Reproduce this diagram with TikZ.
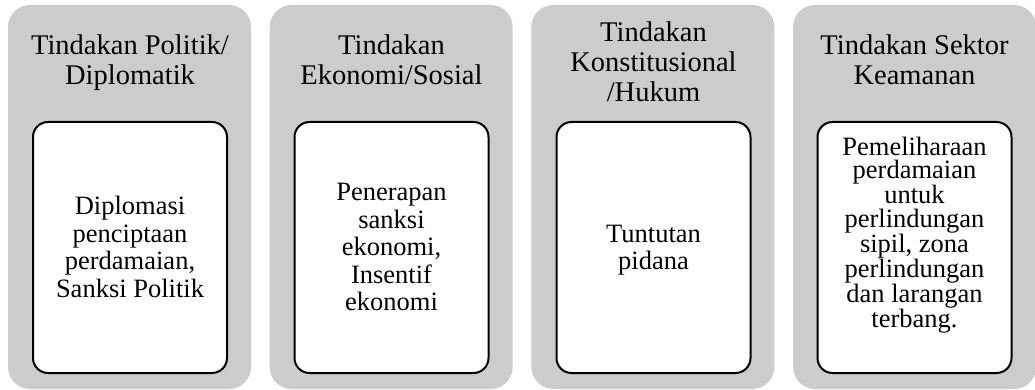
\documentclass[tikz,border=0pt]{standalone}
\usepackage{fontspec}
\setmainfont{Liberation Serif}
\definecolor{boxgrey}{HTML}{CCCCCC}
\tikzset{
  outerbox/.style={fill=boxgrey, draw=none, rounded corners=22pt, minimum width=243pt, minimum height=384pt, inner sep=0pt},
  innerbox/.style={fill=white, draw=black, line width=2pt, rounded corners=15pt, minimum width=194pt, minimum height=251pt, inner sep=0pt},
  titletext/.style={font=\fontsize{28.5}{30}\selectfont, align=center, anchor=base, inner sep=0pt},
  bodytext/.style={font=\fontsize{26.5}{27.5}\selectfont, align=center, anchor=base, inner sep=0pt},
}
\begin{document}
\begin{tikzpicture}[x=1pt,y=-1pt]
\useasboundingbox (0,0) rectangle (1035,390);
% outer boxes
\node[outerbox] (o1) at (129.5,197) {};
\node[outerbox] (o2) at (391.2,197) {};
\node[outerbox] (o3) at (652.9,197) {};
\node[outerbox] (o4) at (914.6,197) {};
% inner boxes
\node[innerbox] (i1) at (130,247.5) {};
\node[innerbox] (i2) at (391.5,247.5) {};
\node[innerbox] (i3) at (653.5,247.5) {};
\node[innerbox] (i4) at (914.5,247.5) {};
% titles (anchor = baseline of last line)
\node[titletext] (t1) at (130,85) {Tindakan Politik/\\Diplomatik};
\node[titletext] (t2) at (391.5,85) {Tindakan\\Ekonomi/Sosial};
\node[titletext] (t3) at (653.5,102) {Tindakan\\Konstitusional\\/Hukum};
\node[titletext] (t4) at (914.5,85) {Tindakan Sektor\\Keamanan};
% bodies
\node[bodytext] (b1) at (130,297) {Diplomasi\\penciptaan\\perdamaian,\\Sanksi Politik};
\node[bodytext] (b2) at (391.5,310.5) {Penerapan\\sanksi\\ekonomi,\\Insentif\\ekonomi};
\node[bodytext] (b3) at (653.5,269.7) {Tuntutan\\pidana};
\node[bodytext, font=\fontsize{26.5}{23.1}\selectfont] (b4) at (914.5,327.4) {Pemeliharaan\\perdamaian\\untuk\\perlindungan\\sipil, zona\\perlindungan\\dan larangan\\terbang.};
\end{tikzpicture}
\end{document}
